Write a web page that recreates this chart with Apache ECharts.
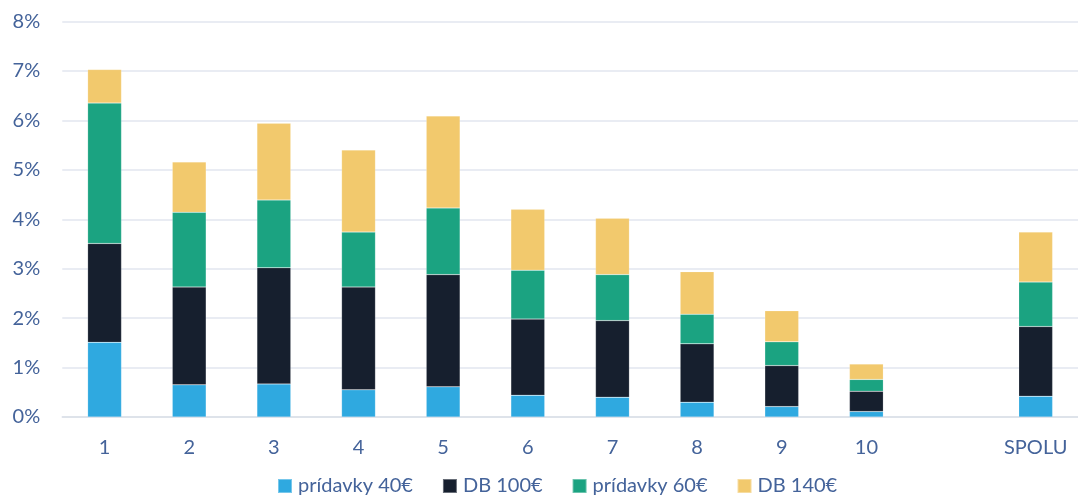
<!DOCTYPE html>
<html>
<head>
<meta charset="utf-8">
<script src="https://cdn.jsdelivr.net/npm/echarts@6/dist/echarts.min.js"></script>
<style>html,body{margin:0;padding:0;background:#fff}#c{width:1078px;height:495px}</style>
</head>
<body>
<div id="c"></div>
<script>
const categories = ['1','2','3','4','5','6','7','8','9','10','','SPOLU'];
const seriesNames = ['prídavky 40€','DB 100€','prídavky 60€','DB 140€'];
const pridavky40 = [1.51,0.65,0.67,0.55,0.61,0.44,0.40,0.30,0.21,0.11,null,0.42];
const db100 = [2.00,1.98,2.35,2.08,2.27,1.54,1.55,1.18,0.83,0.41,null,1.41];
const pridavky60 = [2.84,1.51,1.37,1.11,1.35,0.99,0.93,0.60,0.48,0.24,null,0.90];
const db140 = [0.68,1.02,1.55,1.66,1.86,1.23,1.14,0.86,0.63,0.31,null,1.01];
const yTicks = [0,1,2,3,4,5,6,7,8];

const colors = ['#2FA9E0','#161F2E','#1BA381','#F2C96D'];
const txt = '#44639A';
const font = 'Lato';
const dataSets = [pridavky40, db100, pridavky60, db140];

const chart = echarts.init(document.getElementById('c'));
chart.setOption({
  animation: false,
  color: colors,
  textStyle: {fontFamily: font},
  grid: {left: 62.25, right: -10.25, top: 21.5, bottom: 78, containLabel: false},
  legend: {
    top: 471, left: 272,
    itemWidth: 14, itemHeight: 14, itemGap: 29,
    icon: 'rect',
    textStyle: {color: txt, fontSize: 20, fontFamily: font, padding: [0, 0, 0, 1]},
    data: seriesNames
  },
  xAxis: {
    type: 'category', data: categories,
    axisTick: {show: false},
    axisLine: {lineStyle: {color: '#DADFE8', width: 1.5}},
    axisLabel: {color: txt, fontSize: 20, margin: 21, fontFamily: font}
  },
  yAxis: {
    type: 'value', min: yTicks[0], max: yTicks[yTicks.length-1], interval: 1,
    axisLabel: {color: txt, fontSize: 20, formatter: '{value}%', margin: 22, fontFamily: font},
    splitLine: {lineStyle: {color: '#E2E6EF', width: 1.5}},
    axisLine: {show: false}, axisTick: {show: false}
  },
  series: seriesNames.map((n, i) => ({
    name: n, type: 'bar', stack: 'a', barWidth: '40%',
    data: dataSets[i],
    itemStyle: {color: colors[i], borderColor: 'rgba(255,255,255,0.35)', borderWidth: 0.5}
  }))
});
</script>
</body>
</html>
